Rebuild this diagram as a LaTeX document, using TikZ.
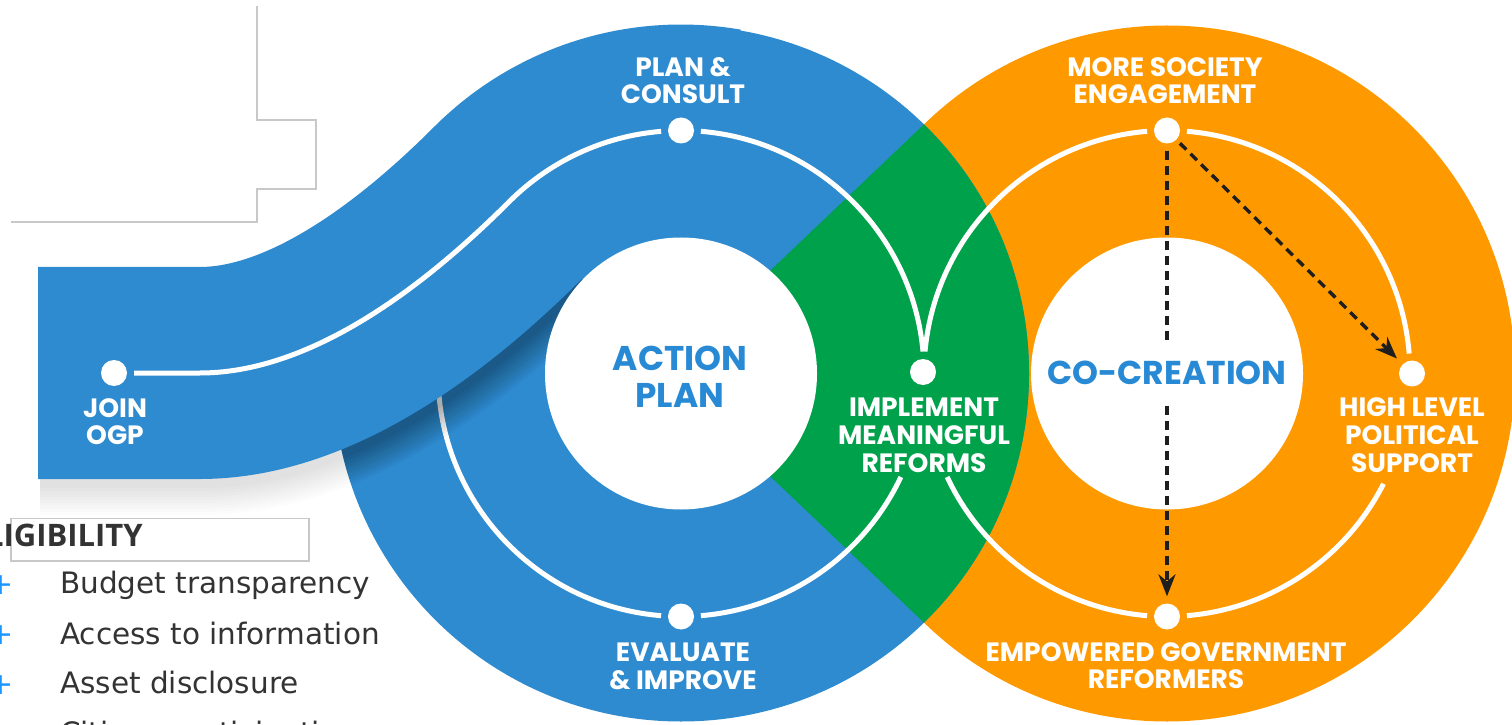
\documentclass[tikz,border=0pt]{standalone}
\usepackage{fontspec}
\setmainfont{Poppins}
\newfontfamily\listfont{DejaVu Sans}
\newfontfamily\headfont{Open Sans}
\usetikzlibrary{arrows.meta,calc}
\definecolor{ogpblue}{RGB}{46,139,208}
\definecolor{ogpgreen}{RGB}{0,161,75}
\definecolor{ogporange}{RGB}{255,153,0}
\definecolor{txtblue}{RGB}{40,138,212}
\definecolor{darktxt}{RGB}{51,51,51}
\definecolor{plusblue}{RGB}{30,150,255}
\definecolor{boxgray}{RGB}{200,200,200}
\definecolor{dashblack}{RGB}{30,30,30}
\begin{document}
\begin{tikzpicture}[x=1pt,y=1pt,
  track/.style={white, line width=5pt},
  dot/.style={circle, fill=white, minimum size=26pt, inner sep=0pt},
  lbl/.style={text=white, font=\bfseries\fontsize{26.5}{27.8}\selectfont, align=center, inner sep=0pt},
  biglbl/.style={text=txtblue, font=\bfseries\fontsize{34.3}{37}\selectfont, align=center, inner sep=0pt},
  dasharrow/.style={draw=dashblack, line width=3.4pt, dash pattern=on 9pt off 6pt, -{Stealth[length=22pt,width=17pt]}},
  listitem/.style={text=darktxt, font=\listfont\fontsize{29.5}{30}\selectfont, anchor=base west, inner sep=0pt},
  plusmark/.style={text=plusblue, font=\listfont\fontsize{30}{30}\selectfont, inner sep=0pt},
  outline/.style={boxgray, line width=1.2pt},
  bandpath/.style={insert path={(38,351) -- (200,351) .. controls (320,351) and (438.5,451.6) .. (509.2,522.3) arc[start angle=135,end angle=80,radius=243pt]}},
  shadowpath/.style={insert path={(38,351) -- (200,351) .. controls (320,351) and (438.5,451.6) .. (509.2,522.3)}}
]
\useasboundingbox (0,0) rectangle (1512,724);

% left side remnants
\draw[outline] (257,718) -- (257,604) -- (316,604) -- (316,535) -- (257,535) -- (257,502) -- (11,502);
\draw[outline] (11,163) rectangle (309,205.7);
\node[anchor=base east, text=darktxt, font=\headfont\bfseries\fontsize{31}{31}\selectfont, inner sep=0pt] (elig) at (143,178) {ELIGIBILITY};
\node[listitem] (budget) at (60,131) {Budget transparency};
\node[listitem] (access) at (60,80) {Access to information};
\node[listitem] (asset) at (60,31) {Asset disclosure};
\node[listitem] (citizen) at (60,-19) {Citizen participation};
\node[plusmark] (p1) at (1.5,139) {+};
\node[plusmark] (p2) at (1.5,89) {+};
\node[plusmark] (p3) at (1.5,39) {+};

\coordinate (B) at (681,350.5);
\coordinate (O) at (1167,350.5);

% rings
\fill[ogporange] (O) circle (348pt);
\fill[ogpblue] (B) circle (348pt);
\begin{scope}
  \clip (B) circle (348pt);
  \fill[ogpgreen] (662,350.5) -- (1055,724.2) -- (1055,-23.2) -- cycle;
\end{scope}

% blue track left part (under band)
\draw[track] (B) ++(265.3:243pt) arc[start angle=265.3,end angle=150,radius=243pt];

% band shadows (below the band only)
\begin{scope}
  \clip (0,351) -- (200,351) .. controls (320,351) and (438.5,451.6) .. (509.2,522.3) -- (800,522.3) -- (800,0) -- (0,0) -- cycle;
  \begin{scope}[shift={(2,-6)}]
  \foreach \i in {1,...,10} {
    \pgfmathsetmacro\w{212+6*\i}
    \draw[black, opacity=0.011, line width=\w pt, shadowpath];
  }
  \end{scope}
\end{scope}
\begin{scope}
  \clip (B) circle (348pt);
  \begin{scope}[shift={(2,-6)}]
  \foreach \i in {1,...,10} {
    \pgfmathsetmacro\w{212+6*\i}
    \draw[black, opacity=0.022, line width=\w pt, shadowpath];
  }
  \end{scope}
\end{scope}

% band
\draw[ogpblue, line width=212pt, bandpath];

% inner white circles
\fill[white] (B) circle (136pt);
\fill[white] (O) circle (136pt);

% dots
\node[dot] (join) at (114,351) {};
\node[dot] (plan) at (681,593.5) {};
\node[dot] (evaluate) at (681,107.5) {};
\node[dot] (implement) at (923,352) {};
\node[dot] (society) at (1167,593.5) {};
\node[dot] (support) at (1412,350.5) {};
\node[dot] (reformers) at (1167,107.5) {};

% band track
\draw[track] ([xshift=7pt]join.east) -- (200,351) .. controls (320,351) and (438.5,451.6) .. (509.2,522.3) arc[start angle=135,end angle=94.7,radius=243pt];

% blue track right parts
\draw[track] (B) ++(85.3:243pt) arc[start angle=85.3,end angle=5.2,radius=243pt];
\draw[track] (B) ++(-25.2:243pt) arc[start angle=-25.2,end angle=-85.3,radius=243pt];

% orange track
\draw[track] (O) ++(94.7:243pt) arc[start angle=94.7,end angle=174.8,radius=243pt];
\draw[track] (O) ++(85.3:243pt) arc[start angle=85.3,end angle=4.7,radius=243pt];
\draw[track] (O) ++(-27:243pt) arc[start angle=-27,end angle=-85.3,radius=243pt];
\draw[track] (O) ++(-94.7:243pt) arc[start angle=-94.7,end angle=-154.8,radius=243pt];

% dashed arrows
\draw[dasharrow, shorten <=7pt, shorten >=7pt] (society) -- (reformers);
\draw[dasharrow, shorten <=5pt, shorten >=8pt] (society) -- (support);

% labels
\node[lbl] (planlbl) at (683,643.3) {PLAN \&\\CONSULT};
\node[lbl] (joinlbl) at (115,302.3) {JOIN\\OGP};
\node[lbl] (impllbl) at (924,289) {IMPLEMENT\\MEANINGFUL\\REFORMS};
\node[lbl] (evallbl) at (683,57.5) {EVALUATE\\\& IMPROVE};
\node[lbl] (socilbl) at (1165,643.3) {MORE SOCIETY\\ENGAGEMENT};
\node[lbl] (supplbl) at (1412,289) {HIGH LEVEL\\POLITICAL\\SUPPORT};
\node[lbl] (reflbl) at (1166,58.3) {EMPOWERED GOVERNMENT\\REFORMERS};
\node[biglbl] (actionlbl) at (680,347.5) {ACTION\\PLAN};
\node[biglbl, font=\bfseries\fontsize{33}{37}\selectfont, fill=white, inner xsep=4pt, inner ysep=20pt] (colbl) at (1167,351) {CO-CREATION};
\end{tikzpicture}
\end{document}
